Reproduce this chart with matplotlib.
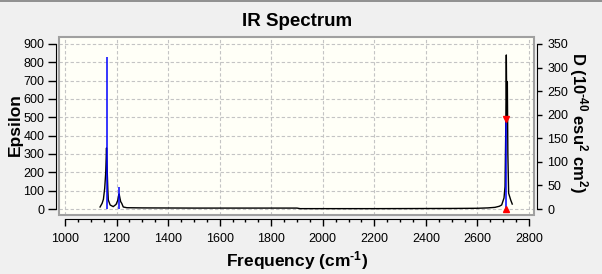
import numpy as np
import matplotlib
matplotlib.use('Agg')
from matplotlib import pyplot as plt
from matplotlib.patches import Rectangle
from matplotlib.lines import Line2D

plt.rcParams['font.family'] = ['Liberation Sans', 'DejaVu Sans']
plt.rcParams['mathtext.fontset'] = 'custom'
plt.rcParams['mathtext.rm'] = 'Liberation Sans:bold'
plt.rcParams['mathtext.bf'] = 'Liberation Sans:bold'
plt.rcParams['mathtext.it'] = 'Liberation Sans:bold'
plt.rcParams['mathtext.default'] = 'rm'

# broadened spectrum (frequency, epsilon)
freq = [1136, 1144, 1149, 1154, 1158, 1161, 1163, 1166, 1168, 1175, 1187, 1198,
        1204, 1208, 1210, 1213, 1216, 1220, 1226, 1240, 1300, 1500, 1900, 1912,
        2200, 2500, 2600, 2640, 2668, 2685, 2694, 2703, 2707, 2710, 2712, 2714,
        2716, 2718, 2721, 2729, 2735]
eps = [11, 31, 53, 113, 200, 333, 240, 110, 49, 22, 13, 25,
       45, 70, 82, 60, 40, 31, 11, 7, 6, 5, 5, 2,
       2, 3, 4, 6, 9, 15, 22, 60, 122, 450, 840, 500,
       694, 300, 86, 49, 27]

# stick intensities (frequency, D)
stick_freq = [1162, 1211, 2712]
stick_d = [322, 47, 191]
sel_freq = 2712
sel_d = 191

W, H = 602, 274
fig = plt.figure(figsize=(W / 100, H / 100), dpi=100, facecolor='#f0f0f0')

def fx(px):
    return px / W

def fy(py):
    return 1 - py / H

x0, x1, y0, y1 = 59, 534, 37, 215
ax = fig.add_axes([fx(x0), fy(y1), fx(x1 - x0), (y1 - y0) / H])
ax.set_facecolor('#fffff7')
ax2 = ax.twinx()

ax.set_xlim(976.7, 2819.4)
ax.set_ylim(-32.7, 938)
ax2.set_ylim(-12.7, 364.8)

ax.plot(freq, eps, color='black', lw=1.0, zorder=2)
ax2.vlines(stick_freq, 0, stick_d, color='blue', lw=1.1, zorder=3)
ax2.plot([sel_freq], [sel_d], marker='v', color='red', ms=5, ls='none', clip_on=False, zorder=4)
ax2.plot([sel_freq], [0], marker='^', color='red', ms=5, ls='none', clip_on=False, zorder=4)

ax.set_xticks(np.arange(1000, 2801, 200))
ax.set_xticks(np.arange(1000, 2801, 50), minor=True)
ax.set_yticks(np.arange(0, 901, 100))
ax2.set_yticks(np.arange(0, 351, 50))

ax.grid(True, which='major', color='#c4c4c4', ls=(0, (3, 2)), lw=0.8)
ax.set_axisbelow(True)

for a in (ax, ax2):
    for s in a.spines.values():
        s.set_visible(False)

ax.spines['left'].set_visible(True)
ax.spines['left'].set_position(('outward', 2.2))
ax.spines['left'].set_bounds(0, 900)
ax.spines['bottom'].set_visible(True)
ax.spines['bottom'].set_position(('outward', 2.9))
ax.spines['bottom'].set_bounds(1000, 2800)
ax2.spines['right'].set_visible(True)
ax2.spines['right'].set_position(('outward', 1.9))
ax2.spines['right'].set_bounds(0, 350)

ax.tick_params(axis='y', length=5.8, width=1, pad=2.5, labelsize=9)
ax.tick_params(axis='x', which='major', length=4.8, width=1, pad=5, labelsize=9)
ax.tick_params(axis='x', which='minor', length=2.4, width=1)
ax2.tick_params(axis='y', length=3.6, width=1, pad=4, labelsize=9)

frame = Rectangle((0, 0), 1, 1, transform=ax.transAxes, fill=False,
                  edgecolor='#a0a0a0', lw=1.5, zorder=5, clip_on=False)
ax.add_patch(frame)

fig.text(fx(297), fy(22), 'IR Spectrum', ha='center', va='center',
         fontsize=13.5, fontweight='bold')
fig.text(fx(297), fy(261), r'Frequency (cm$^{\text{-1}}$)', ha='center', va='center',
         fontsize=12.5, fontweight='bold')
fig.text(fx(15), fy(125), 'Epsilon', ha='center', va='center', rotation=90,
         fontsize=12.5, fontweight='bold')
fig.text(fx(578), fy(122), r'D (10$^{\text{-40}}$ esu$^{2}$ cm$^{2}$)', ha='center', va='center',
         rotation=-90, fontsize=12, fontweight='bold')

fig.add_artist(Line2D([0, 1], [fy(0.5), fy(0.5)], transform=fig.transFigure,
                      color='#808080', lw=1.2))

fig.savefig('out.png', dpi=100, facecolor=fig.get_facecolor())
